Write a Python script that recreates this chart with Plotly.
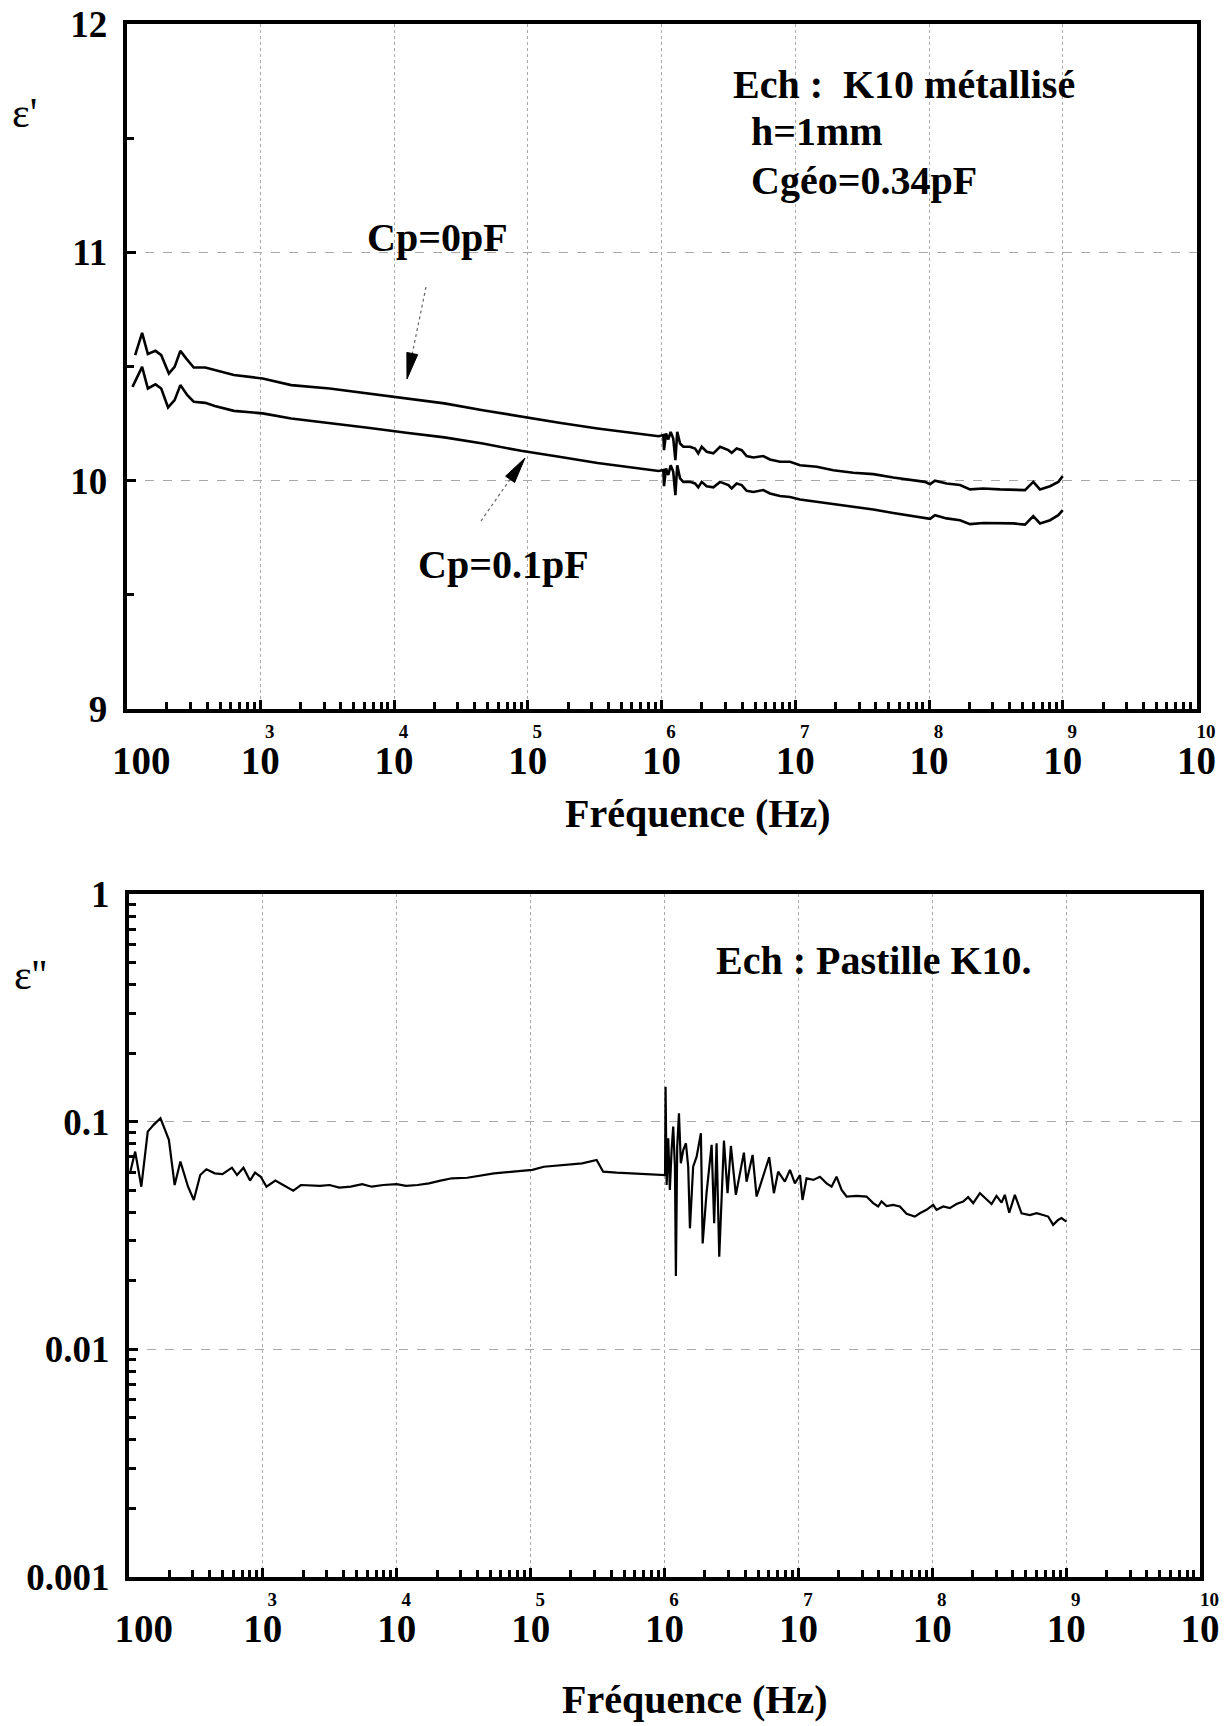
import numpy as np
import plotly.graph_objects as go

W, H = 1231, 1726

# ---------------- data ----------------
# top panel : epsilon' vs frequency, log10(f/Hz)
EPS1_CP0_LOGF = [2.064, 2.116, 2.159, 2.216, 2.259, 2.316, 2.359, 2.402, 2.445, 2.502,
                 2.588, 2.659, 2.802, 3.017, 3.231, 3.518, 3.804, 4.091, 4.376, 4.663,
                 4.949, 5.234, 5.521, 5.978, 6.013, 6.018, 6.033, 6.050, 6.068, 6.087,
                 6.103, 6.117, 6.138, 6.162, 6.212, 6.250, 6.274, 6.300, 6.337, 6.387,
                 6.437, 6.499, 6.524, 6.561, 6.599, 6.636, 6.686, 6.760, 6.810, 6.885,
                 6.960, 7.035, 7.160, 7.284, 7.433, 7.583, 7.732, 7.882, 7.969, 8.007,
                 8.044, 8.131, 8.231, 8.306, 8.405, 8.530, 8.629, 8.717, 8.779, 8.829,
                 8.904, 8.966, 8.999]
EPS1_CP0 = [10.550, 10.648, 10.555, 10.569, 10.550, 10.470, 10.499, 10.569, 10.536, 10.496,
            10.496, 10.485, 10.463, 10.448, 10.419, 10.404, 10.383, 10.361, 10.339, 10.309,
            10.280, 10.254, 10.229, 10.195, 10.200, 10.134, 10.207, 10.181, 10.214, 10.185,
            10.090, 10.214, 10.163, 10.149, 10.149, 10.141, 10.120, 10.149, 10.127, 10.120,
            10.149, 10.134, 10.122, 10.141, 10.134, 10.108, 10.102, 10.108, 10.093, 10.083,
            10.083, 10.068, 10.061, 10.046, 10.035, 10.029, 10.014, 10.000, 9.995, 9.985,
            10.000, 9.988, 9.981, 9.962, 9.966, 9.962, 9.962, 9.959, 9.995, 9.962,
            9.976, 9.995, 10.020]

EPS1_CP01_LOGF = [2.044, 2.116, 2.159, 2.216, 2.259, 2.310, 2.359, 2.402, 2.454, 2.502,
                  2.588, 2.659, 2.802, 3.017, 3.231, 3.518, 3.804, 4.091, 4.376, 4.663,
                  4.949, 5.234, 5.521, 5.978, 6.013, 6.018, 6.033, 6.050, 6.068, 6.087,
                  6.103, 6.117, 6.138, 6.162, 6.212, 6.250, 6.274, 6.300, 6.337, 6.387,
                  6.437, 6.499, 6.524, 6.561, 6.599, 6.636, 6.686, 6.760, 6.810, 6.885,
                  6.960, 7.035, 7.160, 7.284, 7.433, 7.583, 7.732, 7.882, 7.969, 8.007,
                  8.044, 8.131, 8.231, 8.306, 8.405, 8.530, 8.629, 8.717, 8.779, 8.829,
                  8.904, 8.966, 8.999]
EPS1_CP01 = [10.411, 10.499, 10.404, 10.422, 10.404, 10.321, 10.353, 10.419, 10.375, 10.346,
             10.341, 10.327, 10.306, 10.295, 10.273, 10.254, 10.232, 10.210, 10.190, 10.163,
             10.131, 10.105, 10.078, 10.043, 10.047, 9.976, 10.054, 10.025, 10.068, 10.039,
             9.937, 10.068, 10.010, 9.995, 9.995, 9.988, 9.971, 9.995, 9.976, 9.971,
             9.995, 9.981, 9.966, 9.988, 9.981, 9.956, 9.951, 9.959, 9.944, 9.933,
             9.929, 9.918, 9.908, 9.897, 9.883, 9.874, 9.859, 9.845, 9.839, 9.833,
             9.849, 9.835, 9.827, 9.810, 9.815, 9.813, 9.813, 9.808, 9.845, 9.813,
             9.827, 9.849, 9.871]

# bottom panel : epsilon'' vs frequency
EPS2_LOGF = [2.007, 2.046, 2.092, 2.140, 2.184, 2.235, 2.298, 2.341, 2.384, 2.441,
             2.484, 2.532, 2.578, 2.641, 2.698, 2.769, 2.807, 2.855, 2.904, 2.941,
             2.984, 3.027, 3.093, 3.155, 3.227, 3.284, 3.427, 3.498, 3.570, 3.656,
             3.742, 3.813, 3.899, 3.999, 4.070, 4.155, 4.241, 4.327, 4.413, 4.527,
             4.641, 4.727, 4.870, 5.013, 5.099, 5.270, 5.385, 5.493, 5.542, 5.642,
             5.785, 6.004, 6.008, 6.016, 6.028, 6.040, 6.053, 6.065, 6.078, 6.085,
             6.095, 6.108, 6.122, 6.140, 6.160, 6.177, 6.190, 6.214, 6.240, 6.272,
             6.285, 6.314, 6.352, 6.371, 6.389, 6.409, 6.444, 6.471, 6.496, 6.533,
             6.593, 6.613, 6.658, 6.688, 6.712, 6.782, 6.817, 6.849, 6.899, 6.937,
             6.974, 7.012, 7.031, 7.061, 7.111, 7.161, 7.211, 7.248, 7.285, 7.323,
             7.360, 7.435, 7.509, 7.559, 7.596, 7.621, 7.659, 7.708, 7.758, 7.808,
             7.870, 7.907, 7.957, 8.007, 8.032, 8.082, 8.131, 8.181, 8.231, 8.268,
             8.306, 8.356, 8.405, 8.443, 8.480, 8.518, 8.542, 8.575, 8.617, 8.667,
             8.729, 8.779, 8.828, 8.866, 8.903, 8.940, 8.965, 9.003]
EPS2 = [0.0593, 0.0739, 0.0518, 0.0904, 0.0968, 0.1035, 0.0832, 0.0527, 0.0668, 0.0518,
        0.0453, 0.0583, 0.0618, 0.0593, 0.0588, 0.0628, 0.0583, 0.0628, 0.0551, 0.0597,
        0.0573, 0.0518, 0.0551, 0.0527, 0.0498, 0.0527, 0.0522, 0.0527, 0.0513, 0.0518,
        0.0531, 0.0518, 0.0527, 0.0532, 0.0522, 0.0527, 0.0536, 0.0551, 0.0564, 0.0567,
        0.0583, 0.0593, 0.0603, 0.0614, 0.0634, 0.0647, 0.0656, 0.0679, 0.0603, 0.0597,
        0.0593, 0.0583, 0.1425, 0.0527, 0.0845, 0.0501, 0.0751, 0.0951, 0.0634, 0.0210,
        0.0777, 0.1089, 0.0657, 0.0751, 0.0804, 0.0634, 0.0340, 0.0634, 0.0702, 0.0889,
        0.0292, 0.0485, 0.0791, 0.0358, 0.0804, 0.0255, 0.0825, 0.0485, 0.0782, 0.0477,
        0.0731, 0.0545, 0.0714, 0.0469, 0.0518, 0.0698, 0.0485, 0.0603, 0.0545, 0.0614,
        0.0536, 0.0583, 0.0453, 0.0564, 0.0555, 0.0573, 0.0536, 0.0518, 0.0573, 0.0501,
        0.0469, 0.0472, 0.0469, 0.0439, 0.0424, 0.0446, 0.0426, 0.0431, 0.0424, 0.0394,
        0.0383, 0.0396, 0.0410, 0.0431, 0.0410, 0.0424, 0.0417, 0.0435, 0.0446, 0.0466,
        0.0439, 0.0485, 0.0456, 0.0435, 0.0472, 0.0441, 0.0477, 0.0398, 0.0477, 0.0396,
        0.0389, 0.0396, 0.0389, 0.0383, 0.0352, 0.0370, 0.0377, 0.0364]

X_TICK_EXP = [2, 3, 4, 5, 6, 7, 8, 9, 10]
Y1_TICKS = [9, 10, 11, 12]
Y2_TICKS = [0.001, 0.01, 0.1, 1]
Y2_TICK_TEXT = ["0.001", "0.01", "0.1", "1"]

# ---------------- helpers ----------------
FONT = "Liberation Serif"
NB = "\u00a0"


def px(x):
    return x / W


def py(y):
    return 1 - y / H


def xtick_text(e):
    if e == 2:
        return NB + "<br><span style='font-size:39px'>" + NB * 3 + "100</span>"
    return ("<span style='font-size:19px'>" + NB * 4 + str(e) + "</span><br>"
            "<span style='font-size:39px'>10</span>")


x_tickvals = [10.0 ** e for e in X_TICK_EXP]
x_ticktext = [xtick_text(e) for e in X_TICK_EXP]

fig = go.Figure()
line_style = dict(color="black", width=2.6)
fig.add_trace(go.Scatter(x=np.power(10.0, EPS1_CP0_LOGF), y=EPS1_CP0, mode="lines",
                         line=line_style, xaxis="x", yaxis="y", name="Cp=0pF"))
fig.add_trace(go.Scatter(x=np.power(10.0, EPS1_CP01_LOGF), y=EPS1_CP01, mode="lines",
                         line=line_style, xaxis="x", yaxis="y", name="Cp=0.1pF"))
fig.add_trace(go.Scatter(x=np.power(10.0, EPS2_LOGF), y=EPS2, mode="lines",
                         line=dict(color="black", width=2.2), xaxis="x2", yaxis="y2",
                         name="eps2"))

grid_col = "#a8a8a8"
xcommon = dict(type="log", range=[2, 10], tickmode="array", tickvals=x_tickvals,
               ticktext=x_ticktext, ticks="inside", ticklen=9, tickwidth=3,
               tickcolor="black", showline=True, linewidth=4, linecolor="black",
               mirror=True, showgrid=True, gridcolor=grid_col, gridwidth=1,
               griddash="dot", zeroline=False, automargin=False,
               ticklabelstandoff=-9,
               tickfont=dict(family=FONT, size=28, color="black", weight="bold"),
               minor=dict(ticks="inside", ticklen=7, tickwidth=2.5, tickcolor="black",
                          dtick="D1", showgrid=False))

ycommon = dict(ticks="inside", ticklen=9, tickwidth=3, tickcolor="black",
               showline=True, linewidth=4, linecolor="black", mirror=True,
               showgrid=True, gridcolor=grid_col, gridwidth=1, griddash="dash",
               zeroline=False, automargin=False, ticklabelstandoff=8,
               tickfont=dict(family=FONT, size=37, color="black", weight="bold"))

fig.update_layout(
    width=W, height=H, margin=dict(l=0, r=0, t=0, b=0, autoexpand=False),
    paper_bgcolor="white", plot_bgcolor="white", showlegend=False,
    font=dict(family=FONT, color="black"),
    xaxis=dict(domain=[px(126.6), px(1196.6)], anchor="y", **xcommon),
    yaxis=dict(domain=[py(709), py(24.2)], anchor="x", range=[9, 12],
               tickmode="array", tickvals=Y1_TICKS,
               minor=dict(ticks="inside", ticklen=7, tickwidth=2.5, tickcolor="black",
                          dtick=0.5, tick0=9, showgrid=False), **ycommon),
    xaxis2=dict(domain=[px(129), px(1200)], anchor="y2", **xcommon),
    yaxis2=dict(domain=[py(1577), py(894)], anchor="x2", type="log", range=[-3, 0],
                tickmode="array", tickvals=Y2_TICKS, ticktext=Y2_TICK_TEXT,
                minor=dict(ticks="inside", ticklen=7, tickwidth=2.5, tickcolor="black",
                           dtick="D1", showgrid=False), **ycommon),
)

bold = dict(family=FONT, size=40, color="black", weight="bold")
annots = [
    ("Ech :" + NB + " K10 métallisé", 731, 84, "left", bold),
    ("h=1mm", 749, 132, "left", bold),
    ("Cgéo=0.34pF", 749, 180, "left", bold),
    ("Cp=0pF", 438, 237, "center", bold),
    ("Cp=0.1pF", 503, 564, "center", bold),
    ("Fréquence (Hz)", 697, 813, "center", bold),
    ("Ech : Pastille K10.", 714, 960, "left", bold),
    ("Fréquence (Hz)", 694, 1699, "center", bold),
    ("ε'", 24, 113, "center", dict(family=FONT, size=42, color="black")),
    ("ε''", 30, 975, "center", dict(family=FONT, size=42, color="black")),
]
for text, x, y, anchor, f in annots:
    fig.add_annotation(text=text, x=px(x), y=py(y), xref="paper", yref="paper",
                       xanchor=anchor, yanchor="middle", showarrow=False, font=f)


def arrow(tail, tip, head_len=26, half_w=5.5):
    tx, ty = tail
    hx, hy = tip
    d = np.hypot(hx - tx, hy - ty)
    ux, uy = (hx - tx) / d, (hy - ty) / d
    bx, by = hx - head_len * ux, hy - head_len * uy
    nx, ny = -uy, ux
    fig.add_shape(type="line", xref="paper", yref="paper",
                  x0=px(tx), y0=py(ty), x1=px(bx), y1=py(by),
                  line=dict(color="#666666", width=1.2, dash="dot"))
    p1 = (bx + half_w * nx, by + half_w * ny)
    p2 = (bx - half_w * nx, by - half_w * ny)
    path = "M {:.5f},{:.5f} L {:.5f},{:.5f} L {:.5f},{:.5f} Z".format(
        px(hx), py(hy), px(p1[0]), py(p1[1]), px(p2[0]), py(p2[1]))
    fig.add_shape(type="path", xref="paper", yref="paper", path=path,
                  fillcolor="black", line=dict(color="black", width=1))


arrow((426, 287), (407, 379))
arrow((481, 521), (525, 458))

fig.write_html("out.html",
               config={"displayModeBar": False},
               post_script="document.body.style.margin='0px';"
                           "document.body.style.padding='0px';"
                           "document.body.style.overflow='hidden';")
